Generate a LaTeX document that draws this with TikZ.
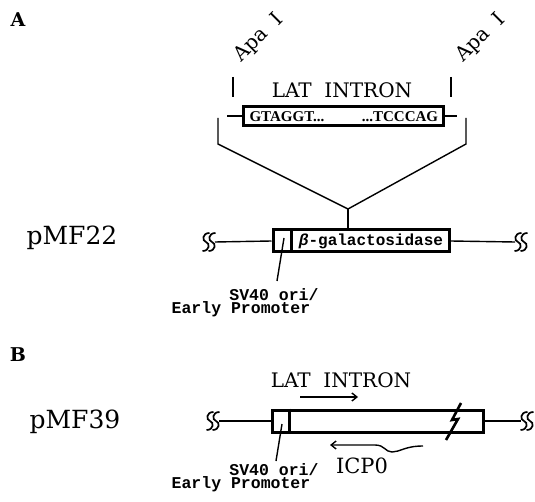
\documentclass[tikz,border=0pt]{standalone}
\usepackage{fontspec}
\setmonofont{Liberation Mono}
\newfontfamily\seqfont{Liberation Serif}
\newfontfamily\labfont{DejaVu Serif}
\usetikzlibrary{positioning,arrows.meta}

\tikzset{
  panel/.style={inner sep=0, font=\labfont\bfseries\fontsize{19}{22}\selectfont},
  plasmid/.style={inner sep=0, font=\labfont\fontsize{25}{30}\selectfont},
  lbl/.style={inner sep=0, font=\labfont\fontsize{20}{24}\selectfont},
  note/.style={inner sep=0, font=\ttfamily\bfseries\fontsize{16.5}{17}\selectfont},
  seq/.style={inner sep=0, font=\seqfont\bfseries\fontsize{15}{16}\selectfont},
  gene/.style={draw, line width=3pt, inner sep=0},
  dna/.style={line width=1.4pt},
  brk/.pic={
    \foreach \d in {-3,3}
      \draw[line width=1.7pt] (\d+3.5,-9) .. controls (\d-4,-9) and (\d-4,-1) .. (\d,0)
        .. controls (\d+4,1) and (\d+4,9) .. (\d-3.5,9);
  }
}

\begin{document}
\begin{tikzpicture}[x=1pt, y=-1pt]
\useasboundingbox (0,0) rectangle (535,502);

% panel A
\node[panel] (pa) at (18,20) {A};
\node[plasmid] (p22) at (72,238) {pMF22};

\node[lbl, rotate=45] (apaL) at (259,38) {Apa\ \ I};
\node[lbl, rotate=45] (apaR) at (481,38) {Apa\ \ I};
\draw[dna] (233,77) -- (233,97);
\draw[dna] (451,77) -- (451,97);
\node[lbl] (latA) at (342,90) {LAT\ \ INTRON};

\node[gene, minimum width=200pt, minimum height=19pt] (intron) at (343,116) {};
\node[seq] (gt) at (287,116.5) {GTAGGT...};
\node[seq] (tc) at (400,116.5) {...TCCCAG};
\draw[dna] (intron.west) -- ++(-15,0);
\draw[dna] (intron.east) -- ++(12,0);

\coordinate (vtip) at (348,209);
\draw[dna] (218,118) -- (218,144) -- (vtip) -- (466,144) -- (466,118);

\node[gene, minimum width=176pt, minimum height=22pt] (lacz) at (361,241) {};
\draw[line width=3pt] ([xshift=20pt]lacz.north west) -- ([xshift=20pt]lacz.south west);
\node[note, font=\ttfamily\bfseries\fontsize{16}{17}\selectfont] (bgal) at (371,241) {{\itshape β}-galactosidase};
\draw[dna] (vtip) -- (vtip |- lacz.north);

\pic (brkA1) at (209,242) {brk};
\pic (brkA2) at (521,242) {brk};
\coordinate (aL) at (215,242);
\coordinate (aR) at (515,242);
\draw[dna] (aL) -- (lacz.west);
\draw[dna] (lacz.east) -- (aR);

\coordinate (oriA) at (284,238);
\coordinate (oriAend) at (277,281);
\draw[dna] (oriA) -- (oriAend);
\node[note] (svA) at (274,295) {SV40 ori/};
\node[note] (epA) at (241,309) {Early Promoter};

% panel B
\node[panel] (pb) at (18,355) {B};
\node[plasmid] (p39) at (75,422) {pMF39};

\node[lbl] (latB) at (341,380) {LAT\ \ INTRON};
\coordinate (latS) at (300,397);
\coordinate (latE) at (358,397);
\draw[dna, -{Straight Barb[length=5pt,width=8pt]}] (latS) -- (latE);

\node[gene, minimum width=211pt, minimum height=22pt] (box39) at (377.5,421) {};
\draw[line width=3pt] ([xshift=19pt]box39.north west) -- ([xshift=19pt]box39.south west);
\draw[line width=2.6pt] (461,403) -- (452,420) -- (458,419) -- (446,440);

\pic (brkB1) at (213,421) {brk};
\pic (brkB2) at (527,421) {brk};
\coordinate (bL) at (219,421);
\coordinate (bR) at (521,421);
\draw[dna] (bL) -- (box39.west);
\draw[dna] (box39.east) -- (bR);

\coordinate (icpR) at (423,446);
\coordinate (icpL) at (330,445);
\draw[dna, -{Straight Barb[length=5pt,width=8pt]}] (icpR) .. controls (405,446) and (400,452) .. (392,452)
  .. controls (385,452) and (385,445) .. (375,445) -- (icpL);
\node[lbl, font=\labfont\fontsize{21}{24}\selectfont] (icp) at (362,466) {ICP0};

\coordinate (oriB) at (282,424);
\coordinate (oriBend) at (276,461);
\draw[dna] (oriB) -- (oriBend);
\node[note] (svB) at (274,470) {SV40 ori/};
\node[note] (epB) at (241,484) {Early Promoter};
\end{tikzpicture}
\end{document}
